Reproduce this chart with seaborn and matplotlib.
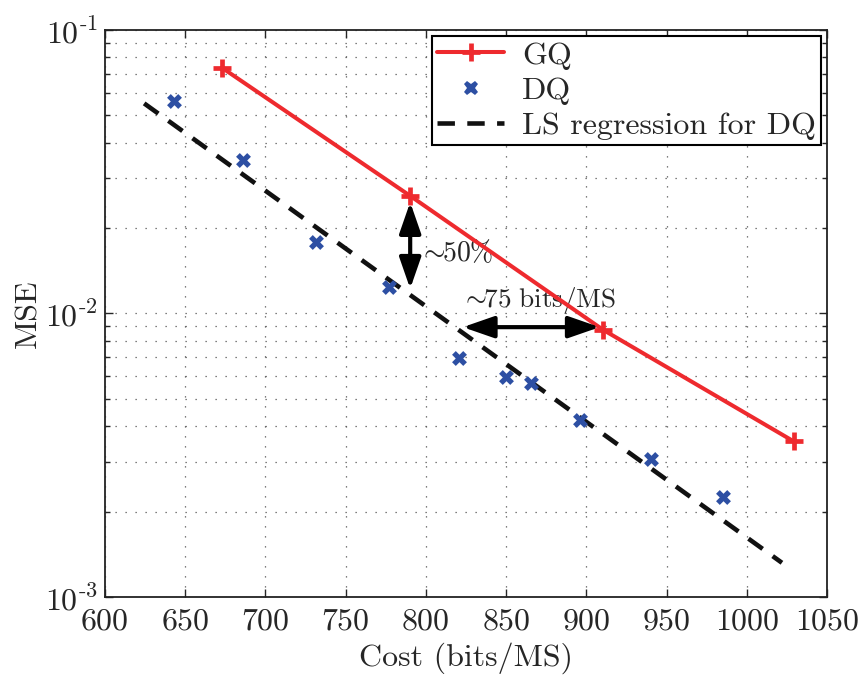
import numpy as np
import pandas as pd
import matplotlib
matplotlib.use("Agg")
import matplotlib.pyplot as plt
from matplotlib.lines import Line2D
import seaborn as sns

# ---- data ----
gq_cost = [672.9, 790.2, 910.4, 1029.2]
gq_mse = [0.0736, 0.0260, 0.00876, 0.00354]

dq_cost = [642.7, 686.0, 731.7, 776.7, 820.8, 850.0, 865.6, 895.8, 940.2, 985.4]
dq_mse = [0.0563, 0.0348, 0.01786, 0.0124, 0.00697, 0.00596, 0.00569, 0.00421, 0.00307, 0.00226]

reg_cost = [624.4, 1021.9]
reg_mse = [0.0551, 0.00132]

x_ticks = [600, 650, 700, 750, 800, 850, 900, 950, 1000, 1050]
y_ticks = [1e-3, 1e-2, 1e-1]
y_ticklabels = [r"$10^{\text{-3}}$", r"$10^{\text{-2}}$", r"$10^{\text{-1}}$"]

# annotations
vert_arrow_x = [790.2, 790.2]
vert_arrow_y = [0.0247, 0.01223]
horz_arrow_x = [823.0, 908.3]
horz_arrow_y = [0.00895, 0.00895]
label_50 = r"$\sim\!\!\mathrm{50\%}$"
label_75 = r"$\sim\!\!\mathrm{75\ bits/MS}$"

sns.set_style("ticks")
plt.rcParams["font.family"] = ["cmr10", "DejaVu Serif"]
plt.rcParams["mathtext.fontset"] = "cm"
plt.rcParams["axes.formatter.use_mathtext"] = True
plt.rcParams["axes.unicode_minus"] = False

FS = 23

fig = plt.figure(figsize=(8.58, 6.76), dpi=100)
ax = fig.add_axes([0.1224, 0.1169, 0.8415, 0.8387])

gq_df = pd.DataFrame({"cost": gq_cost, "mse": gq_mse})
dq_df = pd.DataFrame({"cost": dq_cost, "mse": dq_mse})
reg_df = pd.DataFrame({"cost": reg_cost, "mse": reg_mse})

red = "#EE2A2E"
blue = "#2D4FA3"
GQ_LW = 2.9
REG_LW = 3.3
REG_LS = (0, (3.8, 2.7))

sns.lineplot(data=gq_df, x="cost", y="mse", ax=ax, color=red, linewidth=GQ_LW,
             legend=False, zorder=4)
ax.plot(gq_cost, gq_mse, linestyle="none", marker="+", markersize=13,
        markeredgewidth=3.4, color=red, zorder=5)
sns.scatterplot(data=dq_df, x="cost", y="mse", ax=ax, color=blue, marker="X",
                s=115, linewidth=0, legend=False, zorder=5)
sns.lineplot(data=reg_df, x="cost", y="mse", ax=ax, color="#111111", linewidth=REG_LW,
             linestyle=REG_LS, legend=False, zorder=3)

ax.set_yscale("log")
ax.set_xlim(600, 1050)
ax.set_ylim(1e-3, 1e-1)
ax.set_xticks(x_ticks)
ax.set_xticklabels([str(v) for v in x_ticks], fontsize=FS)
ax.set_yticks(y_ticks)
ax.set_yticklabels(y_ticklabels, fontsize=FS)
ax.yaxis.set_minor_locator(matplotlib.ticker.LogLocator(base=10, subs=np.arange(2, 10)))
ax.yaxis.set_minor_formatter(matplotlib.ticker.NullFormatter())

ax.tick_params(which="both", direction="in", top=True, right=True, width=1.0)
ax.tick_params(which="major", length=6)
ax.tick_params(axis="x", which="major", pad=8)
ax.tick_params(axis="y", which="major", pad=5)
ax.tick_params(which="minor", length=3.5)
ax.grid(True, which="major", axis="x", linestyle=(0, (1, 7)), color="#555555", lw=0.9)
ax.grid(True, which="both", axis="y", linestyle=(0, (1, 7)), color="#555555", lw=0.9)
for s in ax.spines.values():
    s.set_linewidth(1.3)
    s.set_color("#222222")

ax.set_xlabel("Cost (bits/MS)", fontsize=FS, labelpad=5)
ax.set_ylabel("MSE", fontsize=FS, labelpad=2)

# arrows
arrowprops = dict(arrowstyle="<|-|>,head_length=0.95,head_width=0.33", color="black",
                  lw=3.0, shrinkA=0, shrinkB=0, mutation_scale=20)
ax.annotate("", xy=(vert_arrow_x[0], vert_arrow_y[0]),
            xytext=(vert_arrow_x[1], vert_arrow_y[1]), arrowprops=arrowprops, zorder=6)
ax.annotate("", xy=(horz_arrow_x[0], horz_arrow_y[0]),
            xytext=(horz_arrow_x[1], horz_arrow_y[1]), arrowprops=arrowprops, zorder=6)
ax.text(796, 0.0163, label_50, fontsize=FS - 3, ha="left", va="center")
ax.text(870, 0.0111, label_75, fontsize=FS - 3.5, ha="center", va="center")

handles = [
    Line2D([], [], color=red, lw=GQ_LW, marker="+", markersize=13, markeredgewidth=3.4),
    Line2D([], [], color=blue, linestyle="none", marker="X", markersize=10.5,
           markeredgewidth=0),
    Line2D([], [], color="#111111", lw=REG_LW, linestyle=REG_LS),
]
leg = ax.legend(handles, ["GQ", "DQ", "LS regression for DQ"], loc="upper right",
                fontsize=FS, frameon=True, fancybox=False, framealpha=1,
                edgecolor="black", borderaxespad=0.2, handlelength=2.1,
                labelspacing=0.22, borderpad=0.15, handletextpad=0.55)
leg.get_frame().set_linewidth(1.5)

fig.savefig("out.png", dpi=100)
